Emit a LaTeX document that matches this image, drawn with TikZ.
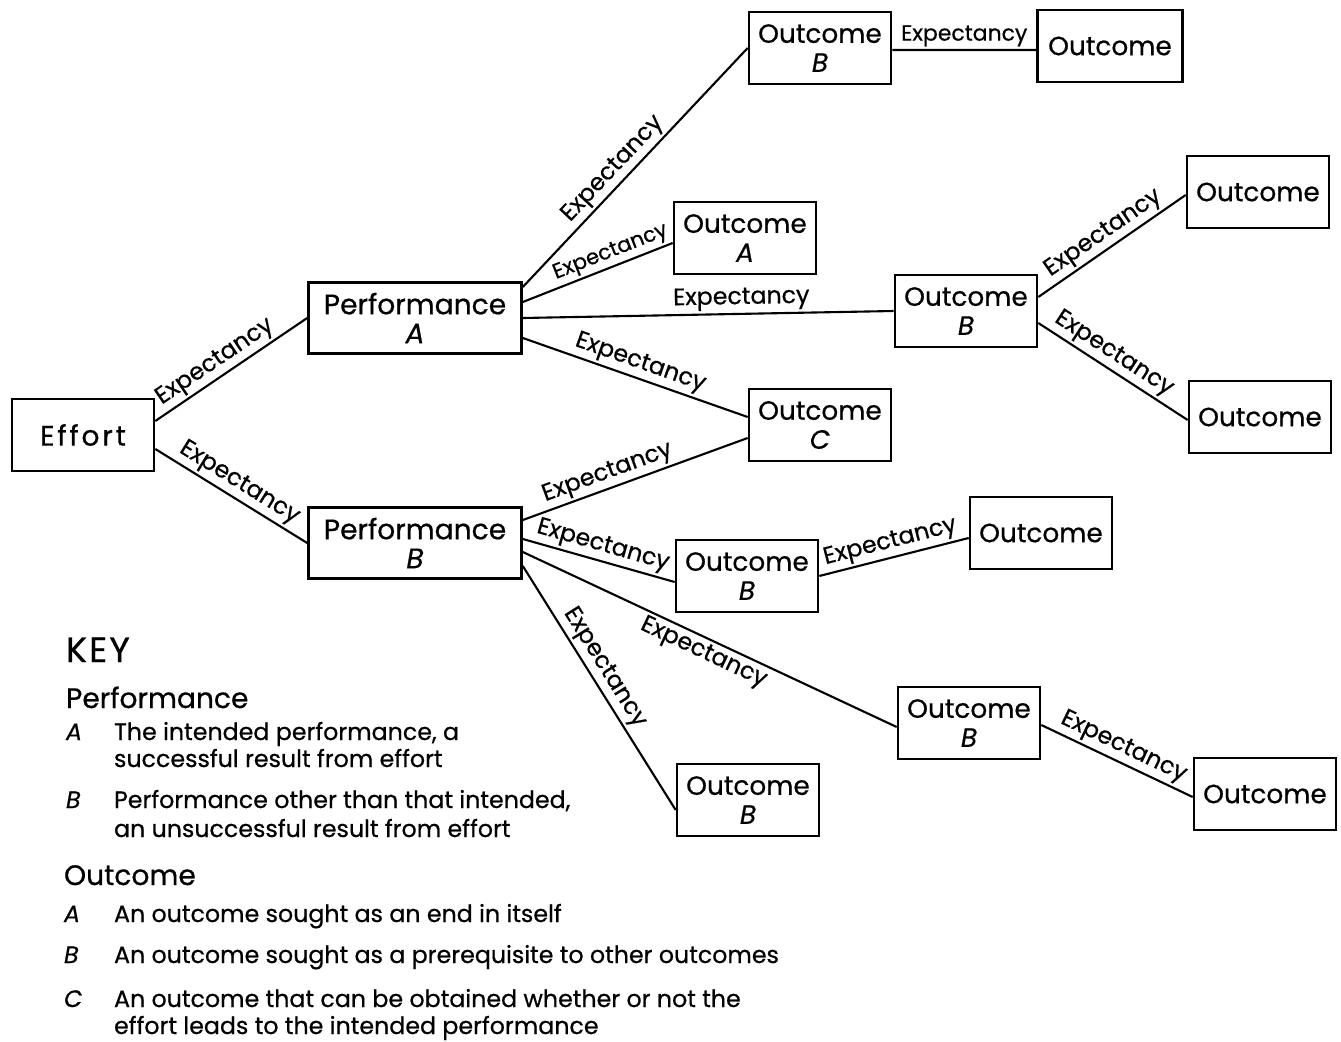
\documentclass[tikz,border=0pt]{standalone}
\usepackage{fontspec}
\setsansfont{Poppins}[FakeBold=0.6]

\begin{document}
\begin{tikzpicture}[x=0.2mm,y=-0.2mm,font=\sffamily,line width=1.2pt,
    box/.style={draw,line width=1.5pt,align=center,inner sep=0pt,
      minimum width=28.4mm,minimum height=14.4mm,
      font=\sffamily\fontsize{15}{16.5}\selectfont},
    perf/.style={box,minimum width=42.6mm,minimum height=14.2mm,
      font=\sffamily\fontsize{16}{16.5}\selectfont},
    expect/.style={sloped,above,inner sep=1.5pt,
      font=\sffamily\fontsize{13.5}{15}\selectfont},
    keyhead/.style={anchor=base west,inner sep=0pt,
      font=\sffamily\fontsize{16}{18}\selectfont},
    keytext/.style={anchor=base west,inner sep=0pt,
      font=\sffamily\fontsize{13.5}{15}\selectfont}]

    \useasboundingbox (0,0) rectangle (1341,1042);

    % Effort and the two performances
    \node [box,font=\sffamily\fontsize{16}{16.5}\selectfont\addfontfeatures{LetterSpace=10}] (effort) at (83,435) {Effort};
    \node [perf] (perfA) at (415,318) {Performance\\\textit{A}};
    \node [perf] (perfB) at (415,543) {Performance\\\textit{B}};

    % Outcomes
    \node [box] (outB1) at (820,48) {Outcome\\\textit{B}};
    \node [box,minimum width=29mm] (out1) at (1110,46) {Outcome};
    \node [box] (outA) at (745,238) {Outcome\\\textit{A}};
    \node [box] (outB2) at (966,311) {Outcome\\\textit{B}};
    \node [box] (out2) at (1258,192) {Outcome};
    \node [box] (out3) at (1260,417) {Outcome};
    \node [box] (outC) at (820,425) {Outcome\\\textit{C}};
    \node [box] (outB3) at (747,576) {Outcome\\\textit{B}};
    \node [box] (out4) at (1041,533) {Outcome};
    \node [box] (outB4) at (969,723) {Outcome\\\textit{B}};
    \node [box] (out5) at (1265,794) {Outcome};
    \node [box] (outB5) at (748,800) {Outcome\\\textit{B}};

    % Effort -> performance
    \draw ([yshift=2.8mm]effort.east) -- node [expect,pos=0.45] {Expectancy} (perfA.west);
    \draw ([yshift=-2.8mm]effort.east) -- node [expect] {Expectancy} (perfB.west);

    % Performance A -> outcomes
    \draw ([yshift=6.2mm]perfA.east) -- node [expect,pos=0.45] {Expectancy} (outB1.west);
    \draw ([yshift=3.2mm]perfA.east) -- node [expect,pos=0.62,font=\sffamily\fontsize{12}{14}\selectfont] {Expectancy} ([yshift=-1mm]outA.west);
    \draw (perfA.east) -- node [expect,pos=0.59] {Expectancy} (outB2.west);
    \draw ([yshift=-4mm]perfA.east) -- node [expect] {Expectancy} ([yshift=1.6mm]outC.west);

    % Performance B -> outcomes
    \draw ([yshift=4.6mm]perfB.east) -- node [expect,pos=0.4] {Expectancy} ([yshift=-2.6mm]outC.west);
    \draw ([yshift=0.8mm]perfB.east) -- node [expect,pos=0.5] {Expectancy} ([yshift=-1.2mm]outB3.west);
    \draw ([yshift=-1.8mm]perfB.east) -- node [expect,below] {Expectancy} ([yshift=-0.8mm]outB4.west);
    \draw ([yshift=-4.6mm]perfB.east) -- node [expect,pos=0.45] {Expectancy} ([yshift=-2mm]outB5.west);

    % Outcome B -> further outcomes
    \draw ([yshift=-0.4mm]outB1.east) -- node [expect,font=\sffamily\fontsize{12.5}{14}\selectfont] {Expectancy} ([yshift=-0.8mm]out1.west);
    \draw ([yshift=2.8mm]outB2.east) -- node [expect,pos=0.5] {Expectancy} ([yshift=-0.6mm]out2.west);
    \draw ([yshift=-2.4mm]outB2.east) -- node [expect,pos=0.45] {Expectancy} ([yshift=-0.6mm]out3.west);
    \draw (outB3.east) -- node [expect,pos=0.5] {Expectancy} ([yshift=-1mm]out4.west);
    \draw ([yshift=-0.4mm]outB4.east) -- node [expect] {Expectancy} ([yshift=-0.6mm]out5.west);

    % Key
    \node [keyhead,font=\sffamily\fontsize{20}{22}\selectfont\addfontfeatures{LetterSpace=6}] (key) at (65,662) {KEY};
    \node [keyhead] (keyperf) at (65,708) {Performance};
    \node [keytext] (kpA) at (65,740) {\textit{A}};
    \node [keytext] (kpA1) at (113,740) {The intended performance, a};
    \node [keytext] (kpA2) at (113,767) {successful result from effort};
    \node [keytext] (kpB) at (65,808) {\textit{B}};
    \node [keytext] (kpB1) at (113,808) {Performance other than that intended,};
    \node [keytext] (kpB2) at (113,837) {an unsuccessful result from effort};
    \node [keyhead] (keyout) at (63,885) {Outcome};
    \node [keytext] (koA) at (63,922) {\textit{A}};
    \node [keytext] (koA1) at (113,922) {An outcome sought as an end in itself};
    \node [keytext] (koB) at (63,963) {\textit{B}};
    \node [keytext] (koB1) at (113,963) {An outcome sought as a prerequisite to other outcomes};
    \node [keytext] (koC) at (63,1007) {\textit{C}};
    \node [keytext] (koC1) at (113,1007) {An outcome that can be obtained whether or not the};
    \node [keytext] (koC2) at (113,1034) {effort leads to the intended performance};

\end{tikzpicture}
\end{document}
